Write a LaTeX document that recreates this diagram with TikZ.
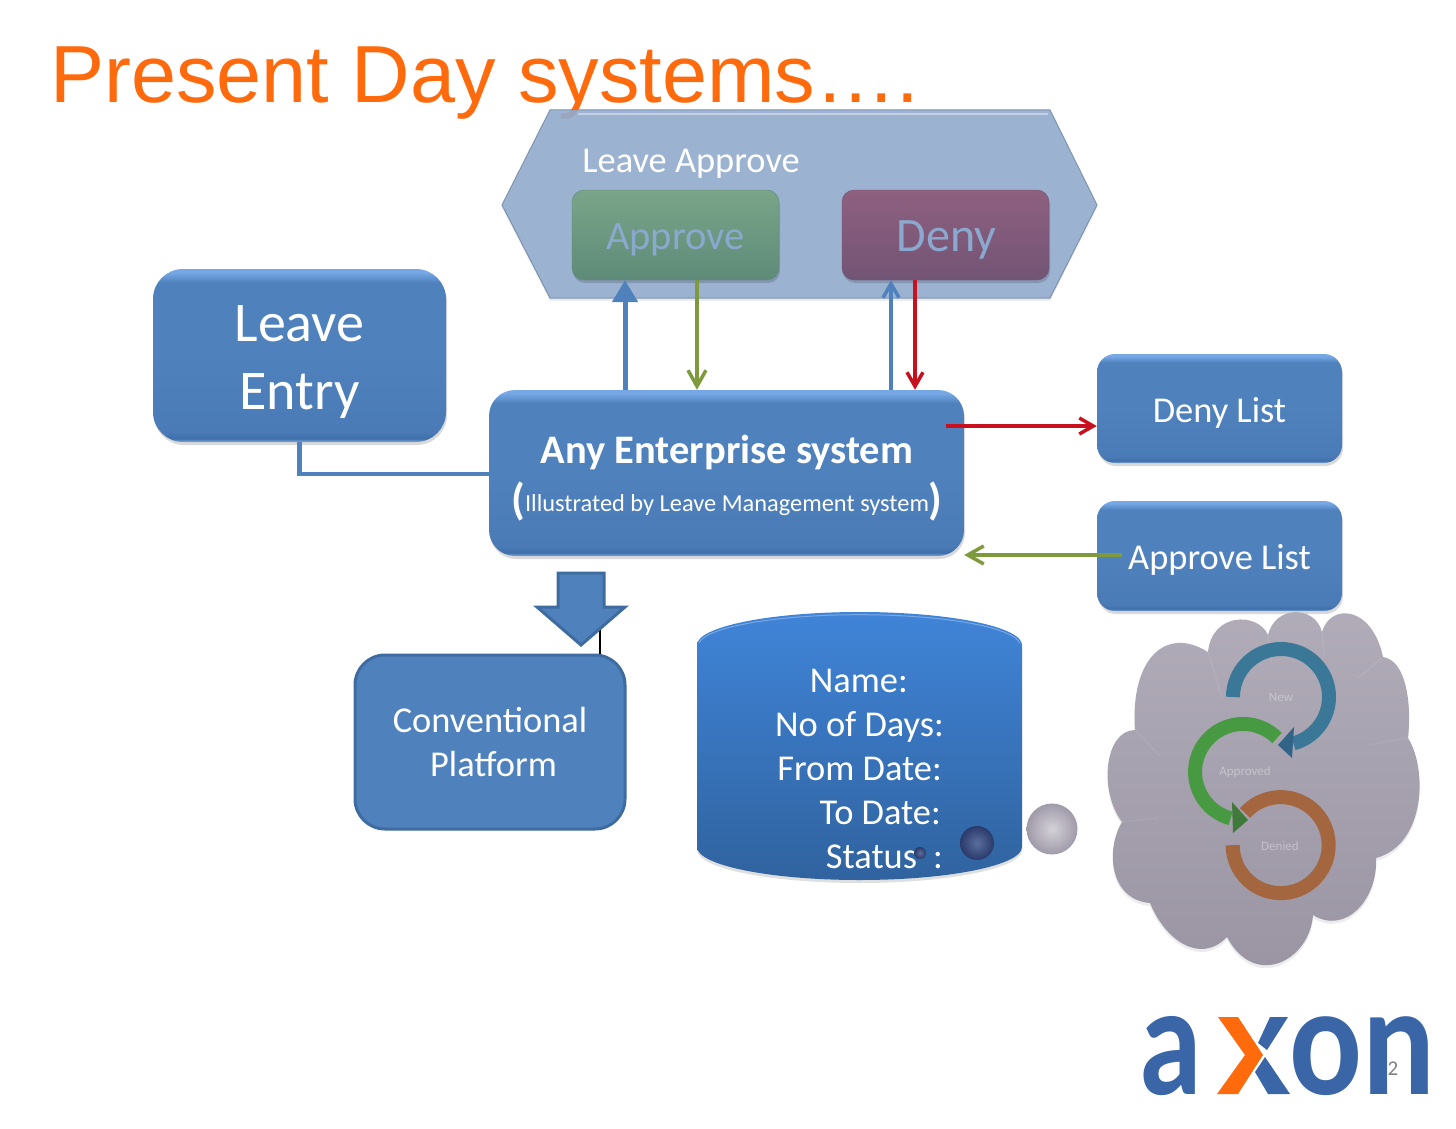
\documentclass[tikz,border=0pt]{standalone}
\usepackage{fontspec}
\usepackage{xcolor}
\setmainfont{Carlito}
\newfontfamily\titlefont{Liberation Sans}
\usetikzlibrary{positioning,arrows.meta,shapes.geometric,shadows,calc}
\definecolor{titleorange}{HTML}{FF6A0D}
\definecolor{boxblue}{HTML}{4F81BD}
\definecolor{edgeblue}{HTML}{3F6CA0}
\definecolor{hexblue}{HTML}{93ACCF}
\definecolor{arrowgreen}{HTML}{7F9A3C}
\definecolor{arrowred}{HTML}{C8101E}
\definecolor{cloudgrey}{HTML}{A09AA9}
\definecolor{logoblue}{HTML}{3A66A8}
\definecolor{bevela}{HTML}{7FA6D6}
\definecolor{bevelb}{HTML}{3E70AC}
\definecolor{bevelc}{HTML}{4A7BB6}
\definecolor{beveld}{HTML}{76A8E6}
\definecolor{drumtop}{HTML}{4084D8}
\definecolor{drumbot}{HTML}{30639F}
\definecolor{apprtop}{HTML}{7AA58A}
\definecolor{apprbot}{HTML}{5E8B78}
\definecolor{denytop}{HTML}{8F6080}
\definecolor{denybot}{HTML}{725474}
\definecolor{panelink}{HTML}{8BA8CE}
\definecolor{ballin}{HTML}{5A6E9E}
\definecolor{ballout}{HTML}{2A3A6A}
\definecolor{cyclenew}{HTML}{3B7898}
\definecolor{cyclenewdk}{HTML}{326488}
\definecolor{cycleappr}{HTML}{489A42}
\definecolor{cycleapprdk}{HTML}{3F7A3A}
\definecolor{cycleden}{HTML}{A4663E}
\pgfdeclareverticalshading{bevelblue}{100bp}{color(0bp)=(bevela); color(25bp)=(bevela); color(26bp)=(bevelb); color(28bp)=(bevelc); color(50bp)=(boxblue); color(71bp)=(boxblue); color(74bp)=(beveld); color(100bp)=(beveld)}
\newcommand{\fsz}[1]{\fontsize{#1}{#1}\selectfont}
\begin{document}
\begin{tikzpicture}[
  x=1pt, y=-1pt,
  softshadow/.style={drop shadow={shadow xshift=1pt, shadow yshift=-3pt, opacity=0.15, fill=black}},
  bluebox/.style={shading=bevelblue, rounded corners=#1, inner sep=0pt, softshadow},
  bluebox/.default=18pt,
  boxlabel/.style={inner sep=0pt, align=center, text=white},
  innerbox/.style={rounded corners=12pt, inner sep=0pt, minimum width=207pt, minimum height=90pt, softshadow},
  thickarr/.style={line width=5pt, draw=boxblue, -{Triangle[length=22pt,width=25pt]}},
  thinarr/.style={line width=3.5pt, draw=boxblue, -{Straight Barb[length=14pt,width=16pt]}},
  greenarr/.style={line width=3.5pt, draw=arrowgreen, -{Straight Barb[length=16pt,width=18pt]}},
  redarr/.style={line width=3.5pt, draw=arrowred, -{Straight Barb[length=14pt,width=16pt]}},
  rectext/.style={anchor=base east, text=white, inner sep=0pt, font=\fsz{36.4}},
  cycarc/.style={line width=14pt, draw=#1},
  cyclabel/.style={text=white, opacity=0.35, font=\fsz{13}, inner sep=0pt},
  logotext/.style={anchor=base, inner sep=0pt, text=logoblue, font=\bfseries\fsz{158}},
  crease/.style={draw=white, opacity=0.07, line width=1.5pt}
]
\useasboundingbox (0,0) rectangle (1456,1129);
\node[anchor=base west, inner sep=0pt, text=titleorange, font=\titlefont\fsz{81}] (title) at (50,103) {Present Day systems\dots.};

% approval panel
\draw[fill=hexblue, fill opacity=0.9, draw=hexblue!85!black, line width=1pt, drop shadow={shadow xshift=0pt, shadow yshift=-3pt, opacity=0.15}]
  (502,205) -- (550,110) -- (1050,110) -- (1097,205) -- (1050,298) -- (550,298) -- cycle;
\draw[white!45!hexblue, line width=2.5pt] (578,114) -- (1048,114);
\node[boxlabel, font=\fsz{36.4}] (lvappr) at (691,164) {Leave Approve};
\node[innerbox, top color=apprtop, bottom color=apprbot, draw=apprbot] (approve) at (675.5,235) {};
\node[boxlabel, text=panelink, font=\fsz{40.5}] (apprlabel) at ([yshift=-5pt]approve.center) {Approve};
\node[innerbox, top color=denytop, bottom color=denybot, draw=denybot] (deny) at (945.5,235) {};
\node[boxlabel, text=panelink, font=\fsz{48}] (denylabel) at ([xshift=1pt,yshift=-5pt]deny.center) {Deny};

\node[bluebox=30pt, minimum width=293pt, minimum height=173pt] (entry) at (299.5,355.5) {};
\node[boxlabel, font=\fsz{56}] (entrylabel) at ([yshift=-7pt]entry.center) {Leave\\[12pt]Entry};
\node[bluebox=26pt, minimum width=475pt, minimum height=166pt] (entsys) at (726.5,473) {};
\node[boxlabel, font=\bfseries\fsz{40.5}] (entname) at (727,452) {Any Enterprise system};
\node[boxlabel, font=\fsz{24.4}] (entnote) at (727,501) {\raisebox{-3pt}{\bfseries\fsz{44}(}Illustrated by Leave Management system\raisebox{-3pt}{\bfseries\fsz{44})}};
\node[bluebox, minimum width=245pt, minimum height=109pt] (denylist) at (1219.5,408.5) {};
\node[boxlabel, font=\fsz{36.4}] (denylabelb) at ([yshift=-4pt]denylist.center) {Deny List};
\node[bluebox, minimum width=245pt, minimum height=110pt] (apprlist) at (1219.5,556) {};
\node[boxlabel, font=\fsz{36.4}] (apprlabelb) at ([yshift=-4pt]apprlist.center) {Approve List};

\draw[line width=4.5pt, draw=boxblue] (entry.south) |- ([yshift=-1pt]entsys.west);
\draw[thickarr] ([xshift=-101.5pt]entsys.north) -- ([xshift=-50.5pt]approve.south);
\draw[greenarr] ([xshift=21.5pt]approve.south) -- ([xshift=-29.5pt]entsys.north);
\draw[thinarr] ([xshift=164.5pt]entsys.north) -- ([xshift=-54.5pt]deny.south);
\draw[redarr] ([xshift=-30.5pt]deny.south) -- ([xshift=188.5pt]entsys.north);
\draw[redarr] ([xshift=-18pt,yshift=47pt]entsys.east) -- ([yshift=-17.5pt]denylist.west);
\draw[greenarr] ([xshift=25pt,yshift=1pt]apprlist.west) -- ([yshift=-82pt]entsys.east);

% platform below
\node[rounded corners=30pt, minimum width=270pt, minimum height=174pt, inner sep=0pt, fill=boxblue, draw=edgeblue, line width=3pt, align=center, text=white, font=\fsz{36.4}] (platform) at (490,742) {Conventional\\[8pt]\hspace*{7pt}Platform};
\draw[black, line width=1.2pt] ([xshift=110pt]platform.north) -- ++(0,-30);
\path[fill=boxblue, draw=edgeblue, line width=3pt] (558,573) -- (604,573) -- (604,607) -- (625,607) -- (581,645) -- (537,607) -- (558,607) -- cycle;

% record drum
\node[minimum width=325pt, minimum height=268pt, inner sep=0pt] (record) at (859.5,746) {};
\path[top color=drumtop, bottom color=drumbot, drop shadow={shadow xshift=0pt, shadow yshift=-3pt, opacity=0.25}]
  (697,645) arc (180:0:162.5pt and 33pt) -- (1022,847) arc (0:-180:162.5pt and 33pt) -- cycle;
\draw[white!30!drumtop, line width=1pt] (699,643) arc (175:5:161pt and 31pt);
\node[rectext] (recname) at (908,692) {Name:};
\node[rectext] (recdays) at (944,736) {No of Days:};
\node[rectext] (recfrom) at (942,780) {From Date:};
\node[rectext] (recto) at (941,824) {To Date:};
\node[rectext] (recstatus) at (943,868) {Status\hspace{16pt}:};
\path[inner color=ballin, outer color=ballout] (920,853) circle (6pt);
\path[inner color=ballin, outer color=ballout] (977,843) circle (17pt);
\path[inner color=cloudgrey!45!white, outer color=cloudgrey] (1052,829) circle (25.5pt);

% thought cloud
\path[top color=cloudgrey!82!white, bottom color=cloudgrey!96!black, drop shadow={shadow xshift=0pt, shadow yshift=-3pt, opacity=0.15}]
  (1208,652) .. controls (1212,612) and (1258,612) .. (1268,635)
  .. controls (1275,605) and (1315,605) .. (1322,632)
  .. controls (1330,603) and (1372,605) .. (1383,657)
  .. controls (1405,660) and (1412,700) .. (1408,738)
  .. controls (1428,770) and (1425,845) .. (1376,858)
  .. controls (1378,900) and (1345,935) .. (1313,915)
  .. controls (1310,960) and (1255,990) .. (1227,937)
  .. controls (1200,965) and (1165,940) .. (1150,903)
  .. controls (1110,900) and (1105,850) .. (1122,822)
  .. controls (1098,790) and (1105,730) .. (1135,730)
  .. controls (1130,660) and (1165,625) .. (1208,652) -- cycle;
\foreach \fromx/\fromy/\tox/\toy in {1208/652/1222/698, 1268/635/1272/665, 1322/632/1324/655, 1383/657/1358/678, 1408/738/1368/745, 1135/730/1160/756, 1122/822/1158/818}
  \draw[crease] (\fromx,\fromy) -- (\tox,\toy);

\draw[cycarc=cyclenew] (1233,697) arc (180:-75:48pt);
\fill[cyclenewdk] (1278,745) -- (1294,727) -- (1292,758) -- cycle;
\draw[cycarc=cycleappr] (1277,738) arc (45:255:48pt);
\fill[cycleapprdk] (1248,820) -- (1232,802) -- (1233,833) -- cycle;
\draw[cycarc=cycleden] (1245,813) arc (138:-180:48pt);

\node[cyclabel] (cycnew) at (1281,697) {New};
\node[cyclabel] (cycappr) at (1245,772) {Approved};
\node[cyclabel] (cycden) at (1280,846) {Denied};

% logo
\node[logotext] (logoa) at (1171,1094) {\scalebox{0.8}[1]{a}};
\node[logotext] (logoon) at (1362,1094) {\scalebox{0.86}[1]{on}};
\fill[logoblue] (1258,1043) -- (1270,1017) -- (1288,1017) -- (1267,1050) -- cycle;
\fill[logoblue] (1265,1057) -- (1290,1094) -- (1268,1094) -- (1255,1072) -- cycle;
\fill[titleorange] (1218,1017) -- (1238,1017) -- (1263,1055) -- (1238,1094) -- (1217,1094) -- (1245,1055) -- cycle;
\node[text=gray, inner sep=0pt, font=\fsz{21}] (pageno) at (1393,1069) {2};
\end{tikzpicture}
\end{document}
